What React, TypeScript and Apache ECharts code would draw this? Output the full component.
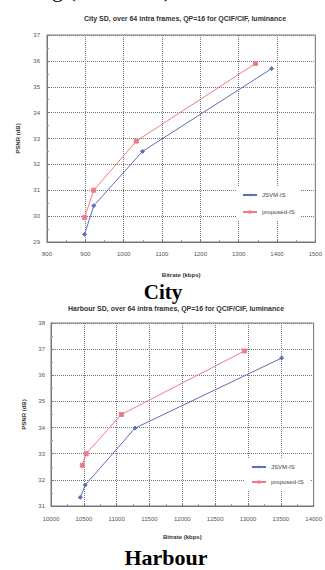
import React, { useEffect, useRef } from "react";
import * as echarts from "echarts";

const seriesNames = ["JSVM-IS", "proposed-IS"];

const cityJsvmRate = [898, 922, 1049, 1386];
const cityJsvmPsnr = [29.3, 30.4, 32.5, 35.7];
const cityPropRate = [898, 922, 1033, 1344];
const cityPropPsnr = [29.95, 31.0, 32.9, 35.9];

const harbourJsvmRate = [10446, 10521, 11280, 13512];
const harbourJsvmPsnr = [31.33, 31.8, 33.98, 36.66];
const harbourPropRate = [10476, 10536, 11071, 12946];
const harbourPropPsnr = [32.56, 33.0, 34.5, 36.93];

const cityTitle = "City SD, over 64 intra frames, QP=16 for QCIF/CIF, luminance";
const harbourTitle = "Harbour SD, over 64 intra frames, QP=16 for QCIF/CIF, luminance";

const zip = (a: number[], b: number[]) => a.map((v, i) => [v, b[i]]);

const FONT = "'Liberation Sans', Arial, sans-serif";
const SERIF = "'Liberation Serif', 'Times New Roman', serif";

const BLUE = "#5d6fb8";
const RED = "#ee7b8a";

function axisCommon(margin: number) {
  return {
    axisLine: { show: true, onZero: false, lineStyle: { color: "#777", width: 1 } },
    axisTick: { show: true, inside: true, length: 3, lineStyle: { color: "#777" } },
    minorTick: { show: true, splitNumber: 2, length: 2, lineStyle: { color: "#999" } },
    splitLine: { show: true, lineStyle: { color: "#777", type: "dotted", width: 1 } },
    axisLabel: { fontSize: 6, color: "#555", fontFamily: FONT, margin, formatter: (v: number) => String(v) },
    nameTextStyle: { fontSize: 6, color: "#333", fontFamily: FONT, fontWeight: "bold" },
    nameLocation: "middle",
  };
}

export default function App() {
  const ref = useRef<HTMLDivElement>(null);
  useEffect(() => {
    if (!ref.current) return;
    const chart = echarts.init(ref.current, undefined, { renderer: "svg" });
    const mkLine = (name: string, data: number[][], xi: number, color: string, symbol: string, size: number) => ({
      type: "line",
      name,
      xAxisIndex: xi,
      yAxisIndex: xi,
      data,
      symbol,
      symbolSize: size,
      showSymbol: true,
      z: 3,
      lineStyle: { color, width: 1 },
      itemStyle: { color, borderColor: color },
    });
    chart.setOption({
      animation: false,
      backgroundColor: "#fff",
      grid: [
        { left: 47, top: 35, width: 269, height: 207, show: true, borderColor: "#777", borderWidth: 1 },
        { left: 51, top: 323, width: 269, height: 183, show: true, borderColor: "#777", borderWidth: 1 },
      ],
      xAxis: [
        {
          ...axisCommon(9),
          type: "value",
          gridIndex: 0,
          min: 800,
          max: 1500,
          interval: 100,
          name: "Bitrate (kbps)",
          nameGap: 30,
        },
        {
          ...axisCommon(10),
          type: "value",
          gridIndex: 1,
          min: 10000,
          max: 14000,
          interval: 500,
          name: "Bitrate (kbps)",
          nameGap: 28,
        },
      ],
      yAxis: [
        {
          ...axisCommon(7),
          type: "value",
          gridIndex: 0,
          min: 29,
          max: 37,
          interval: 1,
          name: "PSNR (dB)",
          nameGap: 26,
        },
        {
          ...axisCommon(6),
          type: "value",
          gridIndex: 1,
          min: 31,
          max: 38,
          interval: 1,
          name: "PSNR (dB)",
          nameGap: 18,
        },
      ],
      legend: [
        {
          data: seriesNames,
          orient: "vertical",
          left: 236,
          top: 186,
          itemWidth: 14,
          itemHeight: 4,
          itemGap: 11,
          padding: [6, 6, 6, 6],
          backgroundColor: "#fff",
          borderWidth: 0,
          textStyle: { fontSize: 6, color: "#444", fontFamily: FONT },
        },
        {
          data: seriesNames,
          orient: "vertical",
          left: 245,
          top: 459,
          itemWidth: 14,
          itemHeight: 4,
          itemGap: 9,
          padding: [5, 6, 5, 6],
          backgroundColor: "#fff",
          borderWidth: 0,
          textStyle: { fontSize: 6, color: "#444", fontFamily: FONT },
        },
      ],
      series: [
        mkLine(seriesNames[0], zip(cityJsvmRate, cityJsvmPsnr), 0, BLUE, "diamond", 4),
        mkLine(seriesNames[1], zip(cityPropRate, cityPropPsnr), 0, RED, "rect", 4),
        mkLine(seriesNames[0], zip(harbourJsvmRate, harbourJsvmPsnr), 1, BLUE, "diamond", 4),
        mkLine(seriesNames[1], zip(harbourPropRate, harbourPropPsnr), 1, RED, "rect", 4),
      ],
      graphic: [
        {
          type: "text",
          left: 52,
          top: -22,
          style: { text: "g (                )", font: `22px ${SERIF}`, fill: "#000" },
        },
        {
          type: "text",
          x: 185,
          y: 18,
          style: { text: cityTitle, font: `bold 7px ${FONT}`, fill: "#333", align: "center", verticalAlign: "middle" },
        },
        {
          type: "text",
          x: 176,
          y: 308,
          style: { text: harbourTitle, font: `bold 7px ${FONT}`, fill: "#333", align: "center", verticalAlign: "middle" },
        },
        {
          type: "text",
          x: 163,
          y: 292,
          style: { text: "City", font: `bold 21px ${SERIF}`, fill: "#000", align: "center", verticalAlign: "middle" },
        },
        {
          type: "text",
          x: 166,
          y: 557,
          style: { text: "Harbour", font: `bold 22px ${SERIF}`, fill: "#000", align: "center", verticalAlign: "middle" },
        },
      ],
    });
    return () => chart.dispose();
  }, []);
  return <div ref={ref} style={{ position: "absolute", left: 0, top: 0, width: 325, height: 570 }} />;
}
